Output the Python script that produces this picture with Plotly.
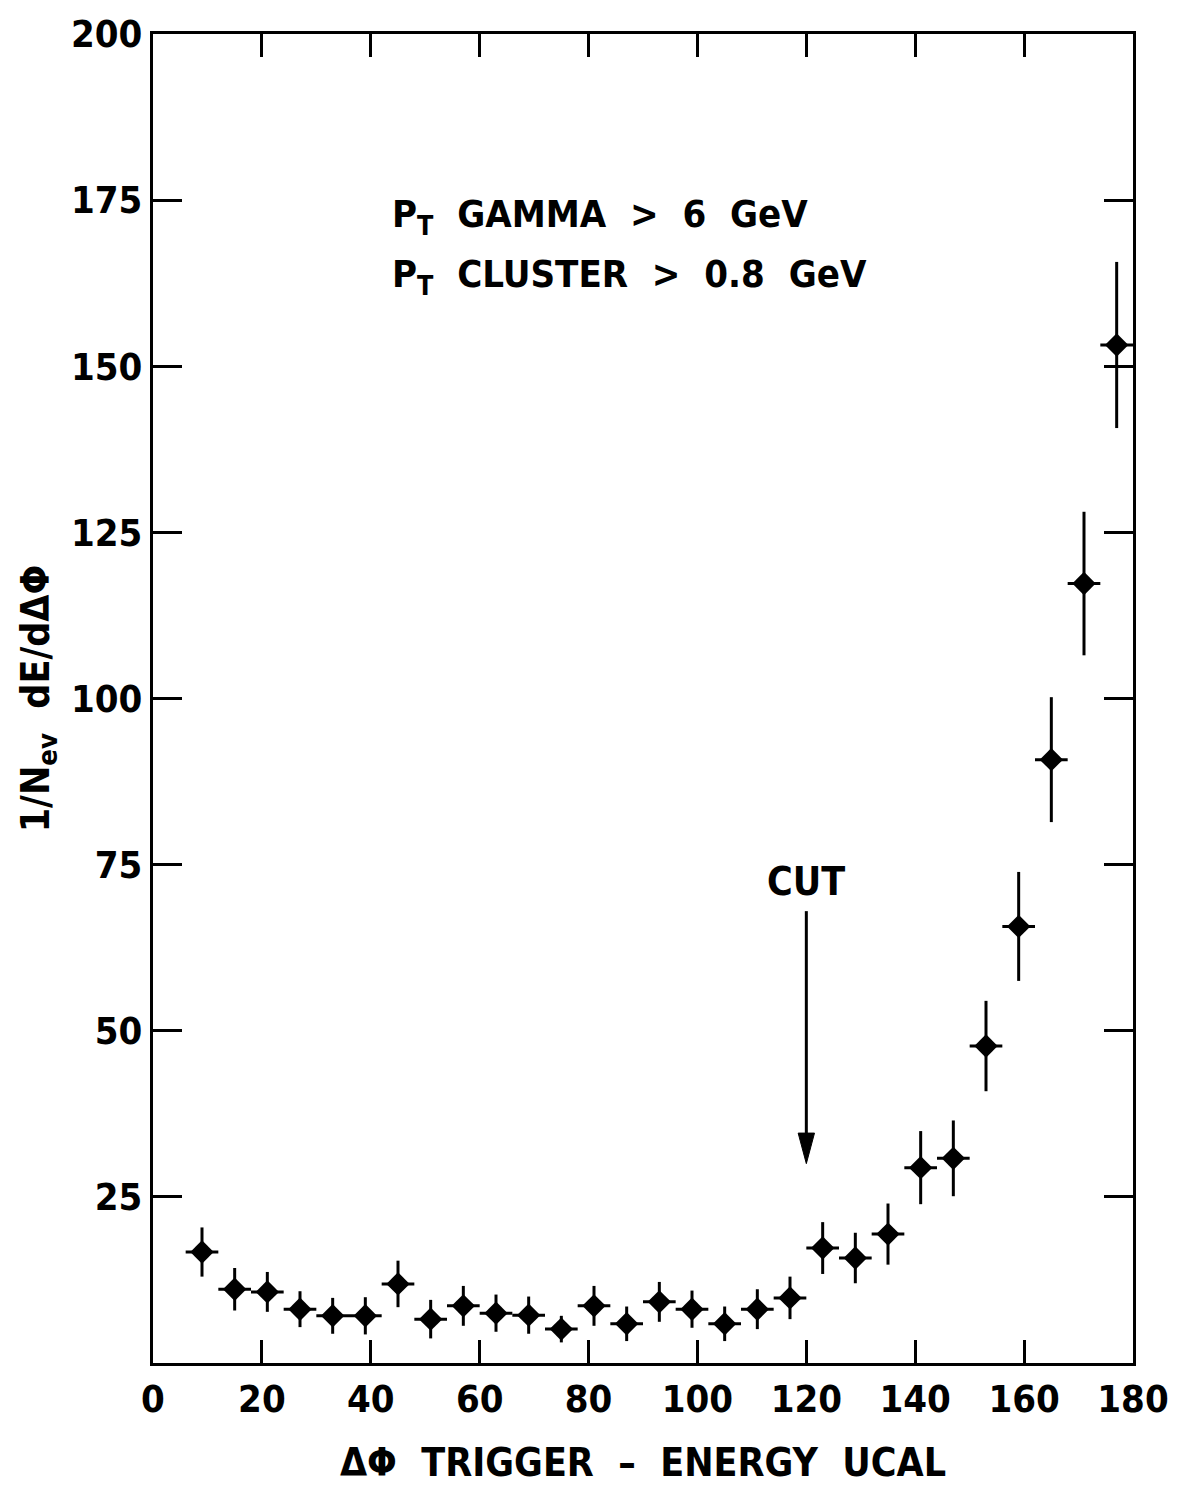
import plotly.graph_objects as go

# Delta-phi bins (6 degrees wide) between trigger and energy in UCAL
dphi = [9, 15, 21, 27, 33, 39, 45, 51, 57, 63, 69, 75, 81, 87, 93,
        99, 105, 111, 117, 123, 129, 135, 141, 147, 153, 159, 165, 171, 177]
bin_half_width = [3] * len(dphi)
energy_flow = [16.7, 11.1, 10.7, 8.1, 7.1, 7.1, 11.9, 6.6, 8.6, 7.5, 7.2, 5.1,
               8.6, 5.9, 9.2, 8.1, 5.9, 8.1, 9.8, 17.3, 15.8, 19.4, 29.4, 30.8,
               47.7, 65.7, 90.8, 117.3, 153.2]
energy_err = [3.7, 3.2, 3.0, 2.7, 2.7, 2.8, 3.5, 2.9, 3.0, 2.8, 2.8, 2.0, 3.0,
              2.6, 3.0, 2.8, 2.6, 3.0, 3.2, 3.9, 3.8, 4.6, 5.5, 5.7, 6.8, 8.2,
              9.4, 10.8, 12.5]

x_ticks = [0, 20, 40, 60, 80, 100, 120, 140, 160, 180]
y_ticks = [25, 50, 75, 100, 125, 150, 175, 200]

cut_value = 120
cut_arrow_top = 68
cut_arrow_tip = 30
cut_label_y = 72.5

cuts_text = ["P<sub>T</sub>  GAMMA  >  6  GeV", "P<sub>T</sub>  CLUSTER  >  0.8  GeV"]
cuts_text_x = 43.5
cuts_text_y = [172.5, 163.5]

FONT = "DejaVu Sans Condensed, Liberation Sans Narrow, sans-serif"


def bold(size):
    return dict(family=FONT, size=size, color="black", weight="bold")


fig = go.Figure()
fig.add_trace(go.Scatter(
    x=dphi, y=energy_flow, mode="markers",
    marker=dict(symbol="diamond", size=18, color="black"),
    error_x=dict(type="data", array=bin_half_width, color="black", thickness=3, width=0),
    error_y=dict(type="data", array=energy_err, color="black", thickness=3, width=0),
    showlegend=False, cliponaxis=True,
))

# CUT arrow: shaft plus a long, narrow filled head
fig.add_shape(type="line", x0=cut_value, x1=cut_value, y0=cut_arrow_top,
              y1=cut_arrow_tip + 4, line=dict(color="black", width=3))
head_h = 4.6
head_w = 1.5
fig.add_shape(type="path",
              path=f"M {cut_value - head_w},{cut_arrow_tip + head_h} "
                   f"L {cut_value + head_w},{cut_arrow_tip + head_h} "
                   f"L {cut_value},{cut_arrow_tip} Z",
              fillcolor="black", line=dict(color="black", width=1))
fig.add_annotation(x=cut_value, y=cut_label_y, text="CUT", showarrow=False,
                   font=bold(39), xanchor="center", yanchor="middle")

for txt, yv in zip(cuts_text, cuts_text_y):
    fig.add_annotation(x=cuts_text_x, y=yv, text=txt, showarrow=False,
                       font=bold(38), xanchor="left", yanchor="middle")

axis_common = dict(
    showgrid=False, zeroline=False, showline=True, linecolor="black",
    linewidth=3, mirror="ticks", ticks="inside", tickcolor="black",
    tickwidth=3, tickfont=bold(38),
)

fig.update_xaxes(range=[0, 180], tickvals=x_ticks, ticklen=23,
                 title=dict(text="ΔΦ  TRIGGER  –  ENERGY  UCAL",
                            font=bold(39), standoff=30),
                 **axis_common)
fig.update_yaxes(range=[0, 200], tickvals=y_ticks, ticklen=29,
                 title=dict(text="1/N<sub>ev</sub>  dE/dΔΦ",
                            font=bold(39), standoff=10),
                 **axis_common)

fig.update_layout(
    width=1181, height=1493,
    margin=dict(l=153, r=40, t=31, b=130),
    paper_bgcolor="white", plot_bgcolor="white",
    font=dict(family=FONT, color="black"),
)

fig.write_html("out.html")
